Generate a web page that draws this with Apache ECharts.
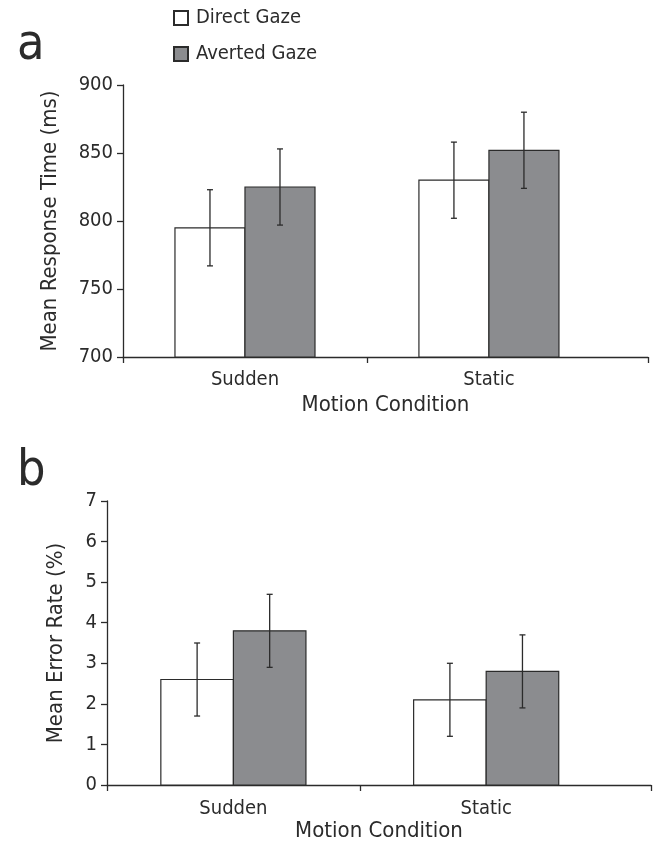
<!DOCTYPE html>
<html>
<head>
<meta charset="utf-8">
<script src="https://cdn.jsdelivr.net/npm/echarts@6/dist/echarts.min.js"></script>
<style>
html,body{margin:0;padding:0;background:#fff;}
#c{width:656px;height:848px;}
</style>
</head>
<body>
<div id="c"></div>
<script>
// ---- data ----
const categories = ['Sudden', 'Static'];
const seriesNames = ['Direct Gaze', 'Averted Gaze'];
// Panel a: Mean Response Time (ms)
const rtDirect = [795, 830];
const rtAverted = [825, 852];
const rtDirectErr = [28, 28];
const rtAvertedErr = [28, 28];
// Panel b: Mean Error Rate (%)
const erDirect = [2.6, 2.1];
const erAverted = [3.8, 2.8];
const erDirectErr = [0.9, 0.9];
const erAvertedErr = [0.9, 0.9];
const rtTicks = [700, 750, 800, 850, 900];
const erTicks = [0, 1, 2, 3, 4, 5, 6, 7];

// ---- rendering ----
const FONT = "'Liberation Sans Narrow', 'DejaVu Sans Condensed', 'Roboto', sans-serif";
const INK = '#2b2b2b';
const GREY = '#8b8c8f';
const BAR_W = 0.287;     // bar width in category units
const X_MAX = 2.152;     // axis runs a little past the last category

function catPos(i) { return i + 0.5; }

function barSeries(name, idx, values, side, color) {
  const yMin = idx === 0 ? rtTicks[0] : erTicks[0];
  return {
    type: 'custom', name: name, xAxisIndex: idx, yAxisIndex: idx,
    itemStyle: { color: color, borderColor: INK, borderWidth: 1.2 },
    encode: { x: 0, y: 1 },
    data: values.map((v, i) => [catPos(i), v]),
    renderItem: function (params, api) {
      const x = api.value(0), v = api.value(1);
      const x0 = side < 0 ? x - BAR_W : x;
      const x1 = side < 0 ? x : x + BAR_W;
      const p0 = api.coord([x0, v]);
      const p1 = api.coord([x1, yMin]);
      return {
        type: 'rect',
        shape: { x: p0[0], y: p0[1], width: p1[0] - p0[0], height: p1[1] - p0[1] },
        style: { fill: color, stroke: INK, lineWidth: 1.2 }
      };
    },
    z: 2
  };
}

function errSeries(idx, values, errs, side) {
  return {
    type: 'custom', name: 'err' + idx + side, xAxisIndex: idx, yAxisIndex: idx,
    encode: { x: 0, y: [1, 2] },
    data: values.map((v, i) => [catPos(i) + side * BAR_W / 2, v - errs[i], v + errs[i]]),
    renderItem: function (params, api) {
      const x = api.value(0);
      const lo = api.coord([x, api.value(1)]);
      const hi = api.coord([x, api.value(2)]);
      const c = 3;
      const st = { stroke: INK, lineWidth: 1.3 };
      return {
        type: 'group',
        children: [
          { type: 'line', shape: { x1: lo[0], y1: lo[1], x2: hi[0], y2: hi[1] }, style: st },
          { type: 'line', shape: { x1: lo[0] - c, y1: lo[1], x2: lo[0] + c, y2: lo[1] }, style: st },
          { type: 'line', shape: { x1: hi[0] - c, y1: hi[1], x2: hi[0] + c, y2: hi[1] }, style: st }
        ]
      };
    },
    z: 3
  };
}

function xAxis(idx, labelMargin, nameGap) {
  return {
    type: 'value', gridIndex: idx, min: 0, max: X_MAX,
    name: 'Motion Condition', nameLocation: 'middle', nameGap: nameGap,
    nameTextStyle: { fontFamily: FONT, fontSize: 22, color: INK },
    splitLine: { show: false },
    axisLine: { show: true, lineStyle: { color: INK, width: 1.3 } },
    axisTick: { show: true, inside: false, length: 6, customValues: [0, 1, X_MAX], lineStyle: { color: INK, width: 1.3 } },
    axisLabel: {
      customValues: categories.map((c, i) => catPos(i)),
      formatter: function (v) { return categories[Math.round(v - 0.5)]; },
      fontFamily: FONT, fontSize: 20, color: INK, margin: labelMargin
    }
  };
}

function yAxis(idx, ticks, name, gap) {
  return {
    type: 'value', gridIndex: idx, min: ticks[0], max: ticks[ticks.length - 1],
    interval: ticks[1] - ticks[0],
    name: name, nameLocation: 'middle', nameGap: gap,
    nameTextStyle: { fontFamily: FONT, fontSize: 22, color: INK },
    splitLine: { show: false },
    axisLine: { show: true, lineStyle: { color: INK, width: 1.3 } },
    axisTick: { show: true, inside: false, length: 6, lineStyle: { color: INK, width: 1.3 } },
    axisLabel: { fontFamily: FONT, fontSize: 20, color: INK, margin: 10 }
  };
}

const chart = echarts.init(document.getElementById('c'), null, { renderer: 'canvas' });
chart.setOption({
  backgroundColor: '#fff',
  animation: false,
  title: [
    { text: 'a', left: 12, top: 16, textStyle: { fontFamily: FONT, fontSize: 50, fontWeight: 'normal', color: INK } },
    { text: 'b', left: 12, top: 442, textStyle: { fontFamily: FONT, fontSize: 50, fontWeight: 'normal', color: INK } }
  ],
  legend: {
    data: seriesNames, orient: 'vertical', left: 168, top: 3, itemGap: 16,
    itemWidth: 14, itemHeight: 14, icon: 'rect',
    textStyle: { fontFamily: FONT, fontSize: 20, color: INK, padding: [0, 0, 0, 3] },
    selectedMode: false
  },
  grid: [
    { left: 123, right: 8, top: 85, bottom: 491 },
    { left: 107, right: 5, top: 501, bottom: 63 }
  ],
  xAxis: [xAxis(0, 13, 37), xAxis(1, 14, 34)],
  yAxis: [
    yAxis(0, rtTicks, 'Mean Response Time (ms)', 62),
    yAxis(1, erTicks, 'Mean Error Rate (%)', 40)
  ],
  series: [
    barSeries(seriesNames[0], 0, rtDirect, -1, '#ffffff'),
    barSeries(seriesNames[1], 0, rtAverted, 1, GREY),
    errSeries(0, rtDirect, rtDirectErr, -1),
    errSeries(0, rtAverted, rtAvertedErr, 1),
    barSeries(seriesNames[0], 1, erDirect, -1, '#ffffff'),
    barSeries(seriesNames[1], 1, erAverted, 1, GREY),
    errSeries(1, erDirect, erDirectErr, -1),
    errSeries(1, erAverted, erAvertedErr, 1)
  ]
});
</script>
</body>
</html>
